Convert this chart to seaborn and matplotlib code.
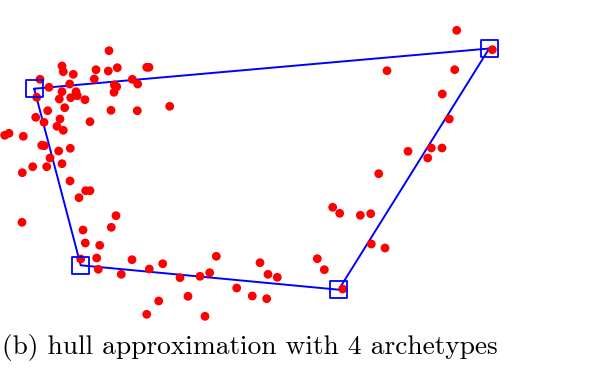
import matplotlib
matplotlib.use("Agg")
import matplotlib.pyplot as plt
import seaborn as sns
import pandas as pd

pts_x = [109, 62, 63.3, 73.3, 96, 108.3, 117.3, 146.7, 149, 94.3, 132.3, 137.7, 40, 49, 69.7,
         62, 76, 77.3, 70.7, 59.3, 85, 114.3, 116.7, 114, 36.7, 64.7, 47.7, 111, 137.3, 169.7,
         35.7, 60, 44, 90, 57, 63.3, 4.7, 9, 23.3, 41.7, 44.3, 70.3, 58.7, 50, 62, 32.7, 46.7,
         22.3, 70, 85.7, 90, 79, 22, 116, 111.3, 83, 85.3, 99.7, 80.7, 96.7, 98.3, 132, 149.3,
         162.7, 121.3, 180, 200, 188, 158.7, 146.7, 205, 216.3, 209.7, 236.7, 252.3, 266.7,
         260, 268, 277.3, 317.3, 324.3, 342.7, 332.7, 339.7, 360.3, 370.7, 371.3, 378.7, 385,
         427.7, 456.7, 492.3, 387, 454.7, 442.3, 449.3, 408, 431.3, 442]
pts_y = [50.7, 66, 71.7, 74.3, 69.7, 71, 67.7, 67.3, 67.3, 79, 79.3, 84, 79.3, 87.3, 84,
         91.7, 91.7, 95.7, 97.7, 99, 99.7, 85, 86.7, 92.3, 97.3, 107.7, 110.7, 110.3, 110.7, 106.3,
         117.3, 119, 122.3, 121.7, 126.3, 130.3, 135.3, 133.3, 136.3, 145.3, 145.7, 148.3, 151, 158, 163.7, 166.7, 166.7,
         172.7, 181, 190.7, 190.7, 197.7, 222.3, 215.7, 227.3, 230, 243, 245.3, 259, 258, 269.3, 259.7, 269,
         263.7, 274.3, 277.7, 276.3, 296.3, 301, 314.3, 316.3, 256.3, 272.7, 288, 296, 298.7,
         262.7, 274.3, 277.3, 258.7, 269.7, 289, 207.3, 213.3, 215.3, 213.7, 244, 173.7, 248,
         158, 30.3, 49.7, 70.7, 69.7, 94, 119, 151.3, 148, 148]

# archetypes (hull approximation vertices, in drawing order)
arch_x = [34.2, 489.2, 338.7, 80.7]
arch_y = [88.7, 48.5, 289.7, 265.3]

caption = "(b) hull approximation with 4 archetypes"

sns.set_theme(style="white")
fig = plt.figure(figsize=(6.13, 3.70), dpi=100)
ax = fig.add_axes([0, 0, 1, 1])

pts = pd.DataFrame({"x": pts_x, "y": pts_y})
loop = pd.DataFrame({"x": arch_x + arch_x[:1], "y": arch_y + arch_y[:1]})
arch = pd.DataFrame({"x": arch_x, "y": arch_y})

sns.lineplot(data=loop, x="x", y="y", sort=False, estimator=None, color="#0000ff",
             linewidth=1.4, ax=ax, zorder=2)
sns.scatterplot(data=pts, x="x", y="y", color="#ff0000", s=40, edgecolor="none",
                linewidth=0, ax=ax, zorder=3)
ax.scatter(arch["x"], arch["y"], marker="s", s=150, facecolors="none",
           edgecolors="#0000ff", linewidths=1.3, zorder=4)

ax.set_xlim(0, 613)
ax.set_ylim(370, 0)
ax.axis("off")

fig.text(0.003, 0.062, caption, fontsize=19.7, family="cmr10", color="black",
         ha="left", va="center")

fig.savefig("out.png", dpi=100)
